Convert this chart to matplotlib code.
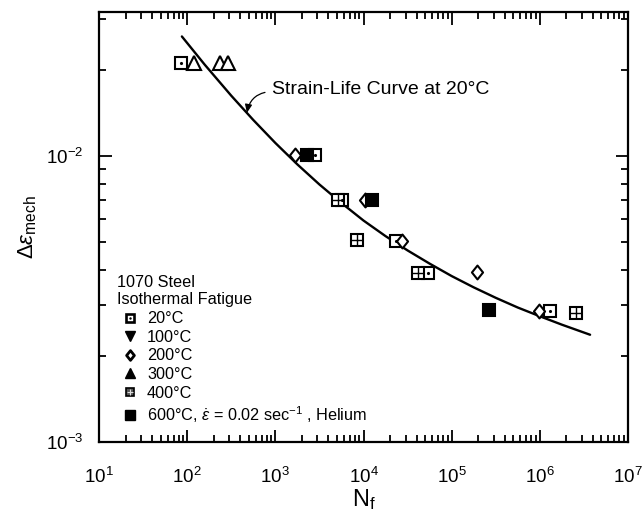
import matplotlib
matplotlib.use("Agg")
import matplotlib.pyplot as plt
from matplotlib.lines import Line2D
from matplotlib.legend_handler import HandlerTuple
from matplotlib.path import Path
from matplotlib.ticker import FixedLocator, NullFormatter

plt.rcParams['font.family'] = ['Liberation Sans', 'DejaVu Sans']
plt.rcParams['mathtext.fontset'] = 'custom'
plt.rcParams['mathtext.rm'] = 'Liberation Sans'
plt.rcParams['mathtext.it'] = 'Liberation Sans:italic'
plt.rcParams['mathtext.bf'] = 'Liberation Sans:bold'

# ---- data ----
n_20 = [85, 2812, 5690, 23280, 53700, 1.32e6]
e_20 = [0.0211, 0.0101, 0.0070, 0.00505, 0.00391, 0.00287]

n_100 = []
e_100 = []

n_200 = [1667, 10370, 27020, 193200, 975000]
e_200 = [0.0101, 0.0070, 0.00505, 0.00393, 0.00287]

n_300 = [119, 236, 290]
e_300 = [0.0211, 0.0211, 0.0211]

n_400 = [5130, 8360, 41400, 2.56e6]
e_400 = [0.0070, 0.00508, 0.00391, 0.00283]

n_600 = [2264, 12360, 264000]
e_600 = [0.0101, 0.0070, 0.00290]

curve_n = [87.1, 158.5, 316.2, 562.3, 1000, 1778, 3162, 5623, 10000, 17783, 31623,
           56234, 1e5, 177828, 316228, 562341, 1e6, 1778279, 3715352]
curve_e = [0.02612, 0.02080, 0.01622, 0.01334, 0.01109, 0.00933, 0.00794, 0.00684,
           0.00594, 0.00524, 0.00467, 0.00420, 0.00380, 0.00347, 0.00319, 0.00295,
           0.00275, 0.00257, 0.00237]

x_major = [1e1, 1e2, 1e3, 1e4, 1e5, 1e6, 1e7]
y_major = [1e-3, 1e-2]

legend_labels = ["20°C", "100°C", "200°C", "300°C", "400°C",
                 r"600°C, $\dot{\varepsilon}$ = 0.02 sec$^{-1}$ , Helium"]
legend_title = "1070 Steel\nIsothermal Fatigue"
curve_label = "Strain-Life Curve at 20°C"

# ---- figure ----
fig = plt.figure(figsize=(6.42, 5.16), dpi=100)
ax = fig.add_axes([99/642, 1-442/516, 529/642, 430/516])
ax.set_xscale('log')
ax.set_yscale('log')
ax.set_xlim(10, 1e7)
ax.set_ylim(1e-3, 0.0318)

ax.plot(curve_n, curve_e, color='black', lw=1.7, zorder=2,
        solid_joinstyle='round', solid_capstyle='round')

diamond = Path([(-0.8, 0), (0, 1), (0.8, 0), (0, -1), (-0.8, 0)],
               [Path.MOVETO, Path.LINETO, Path.LINETO, Path.LINETO, Path.CLOSEPOLY])

ms = 8.5
mew = 1.5
kw = dict(ls='none', mec='black', mew=mew, zorder=3)
ax.plot(n_20, e_20, marker='s', ms=ms, mfc='white', **kw)
ax.plot(n_20, e_20, marker='.', ms=2.5, color='black', ls='none', zorder=4)
ax.plot(n_100, e_100, marker='v', ms=ms, mfc='white', **kw)
ax.plot(n_200, e_200, marker=diamond, ms=ms+1.5, mfc='white', **kw)
ax.plot(n_300, e_300, marker='^', ms=ms+1, mfc='white', **kw)
ax.plot(n_400, e_400, marker='s', ms=ms, mfc='white', **kw)
ax.plot(n_400, e_400, marker='+', ms=ms, mew=1.0, color='black', ls='none', zorder=4)
ax.plot(n_600, e_600, marker='s', ms=ms, mfc='black', **kw)

# annotation
ax.annotate(curve_label, xy=(476, 0.01413), xytext=(914, 0.0170),
            fontsize=14, ha='left', va='center',
            arrowprops=dict(arrowstyle='-|>,head_length=0.35,head_width=0.15',
                            color='black', lw=0.9, shrinkA=3, shrinkB=0,
                            relpos=(0.0, 0.4),
                            connectionstyle='arc3,rad=0.4'))

# legend
lms = 6
h20 = (Line2D([], [], marker='s', ms=lms, mfc='white', mec='black', mew=1.9, ls='none'),
       Line2D([], [], marker='.', ms=1.5, color='black', ls='none'))
h100 = Line2D([], [], marker='v', ms=lms+0.5, color='black', ls='none')
h200 = (Line2D([], [], marker=diamond, ms=lms+1, mfc='white', mec='black', mew=2.0, ls='none'),)
h300 = Line2D([], [], marker='^', ms=lms+0.5, color='black', ls='none')
h400 = (Line2D([], [], marker='s', ms=lms, mfc='#555555', mec='black', mew=1.2, ls='none'),
        Line2D([], [], marker='+', ms=lms-1, color='#dddddd', mew=0.8, ls='none'))
h600 = Line2D([], [], marker='s', ms=lms+0.5, color='black', ls='none')
leg = ax.legend([h20, h100, h200, h300, h400, h600], legend_labels,
                title=legend_title, alignment='left',
                handler_map={tuple: HandlerTuple(ndivide=1, pad=0)},
                loc='upper left', bbox_to_anchor=(0.034, 0.389),
                frameon=False, fontsize=11.7, title_fontproperties={'size': 11.7},
                borderpad=0, borderaxespad=0, handlelength=1.6, handletextpad=0.25,
                labelspacing=0.22)
leg._legend_box.sep = 3

# ticks
for side in ['top', 'bottom', 'left', 'right']:
    ax.spines[side].set_linewidth(1.6)
ax.xaxis.set_major_locator(FixedLocator(x_major))
ax.yaxis.set_major_locator(FixedLocator(y_major))
ax.set_xticklabels([r"$10^{%d}$" % k for k in range(1, 8)])
ax.set_yticklabels([r"$10^{-3}$", r"$10^{-2}$"])
ax.xaxis.set_minor_locator(FixedLocator([m * 10**k for k in range(1, 7) for m in range(2, 10)]))
ax.yaxis.set_minor_locator(FixedLocator([m * 10**k for k in (-3, -2) for m in range(2, 10)
                                         if m * 10**k < 0.0318]))
ax.xaxis.set_minor_formatter(NullFormatter())
ax.yaxis.set_minor_formatter(NullFormatter())
ax.tick_params(which='both', direction='in', top=True, right=True, width=1.3)
ax.tick_params(which='major', length=9, labelsize=13.5)
ax.tick_params(which='minor', length=5)
ax.tick_params(axis='x', which='major', pad=18)
ax.tick_params(axis='y', which='major', pad=11)

ax.set_xlabel(r"N$_{\rm f}$", fontsize=17, labelpad=0)
ax.set_ylabel(r"$\Delta\varepsilon_{\rm mech}$", fontsize=16, labelpad=5)

fig.savefig("out.png", dpi=100)
